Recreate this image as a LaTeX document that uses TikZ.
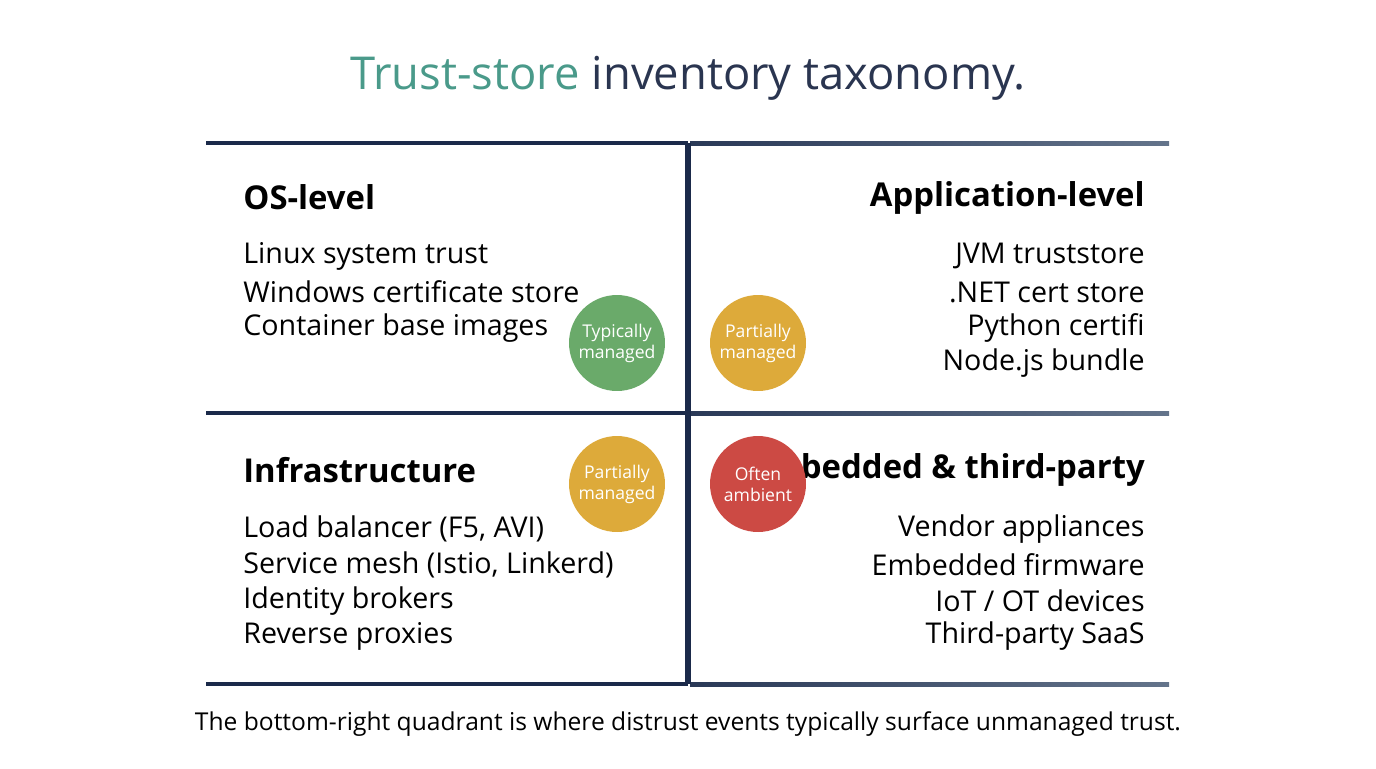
\documentclass[tikz,border=0pt]{standalone}
\usepackage{fontspec}
\setmainfont{Open Sans}
\definecolor{navy}{HTML}{1B2A4A}
\definecolor{slate}{HTML}{64748B}
\definecolor{teal}{HTML}{4A9A8A}
\definecolor{ink}{HTML}{2A3550}
\definecolor{okgreen}{HTML}{6AAA6A}
\definecolor{midgold}{HTML}{DDAA3A}
\definecolor{warnred}{HTML}{CC4A44}
\tikzset{%
  % Specifications for style of nodes:
        head/.style = {font=\fontsize{18.7}{22}\selectfont\bfseries, text=black},
        item/.style = {font=\fontsize{16.3}{20}\selectfont, text=black, inner sep=0pt},
       badge/.style = {circle, minimum size=1.92cm, inner sep=0pt, text=white,
                       align=center, font=\fontsize{10}{12}\selectfont},
        rule/.style = {line width=2.2pt, draw=navy},
}
\begin{document}
\begin{tikzpicture}[x=0.02cm, y=-0.02cm]
  \useasboundingbox (0,0) rectangle (1376,768);

  % Title and caption
  \node (title) at (688,78) {\fontsize{25.8}{30}\selectfont\textcolor{teal}{Trust-store} \textcolor{ink}{inventory taxonomy.}};
  \node (caption) at (688,724) {\fontsize{14}{17}\selectfont The bottom-right quadrant is where distrust events typically surface unmanaged trust.};

  % Grid lines
  \coordinate (tl) at (206,143);  \coordinate (tm) at (688,143);  \coordinate (tr) at (1169,143);
  \coordinate (ml) at (206,413);  \coordinate (mm) at (688,413);  \coordinate (mr) at (1169,413);
  \coordinate (bl) at (206,684);  \coordinate (bm) at (688,684);  \coordinate (br) at (1169,684);
  \draw[rule] (tl) -- (tm);
  \draw[rule] (ml) -- (mm);
  \draw[rule] (bl) -- (bm);
  \shade[left color=navy!80!slate, right color=slate] (690,141) rectangle (1169,145);
  \shade[left color=navy!80!slate, right color=slate] (690,411) rectangle (1169,415);
  \shade[left color=navy!80!slate, right color=slate] (690,682) rectangle (1169,686);
  \draw[line width=3pt, draw=navy] (tm) -- (bm);

  % Quadrant texts
  \node (os) [head, anchor=west, inner sep=0pt] at (243,197) {OS-level};
  \node (os1) [item, anchor=west] at (243,256) {Linux system trust};
  \node (os2) [item, anchor=west] at (243,292) {Windows certificate store};
  \node (os3) [item, anchor=west] at (243,328) {Container base images};

  \node (app) [head, anchor=east, inner sep=0pt] at (1145,198) {Application-level};
  \node (app1) [item, anchor=east] at (1145,256) {JVM truststore};
  \node (app2) [item, anchor=east] at (1145,292) {.NET cert store};
  \node (app3) [item, anchor=east] at (1145,328) {Python certifi};
  \node (app4) [item, anchor=east] at (1145,363) {Node.js bundle};

  \node (infra) [head, anchor=west, inner sep=0pt] at (243,470) {Infrastructure};
  \node (infra1) [item, anchor=west] at (243,529) {Load balancer (F5, AVI)};
  \node (infra2) [item, anchor=west] at (243,565) {Service mesh (Istio, Linkerd)};
  \node (infra3) [item, anchor=west] at (243,601) {Identity brokers};
  \node (infra4) [item, anchor=west] at (243,636) {Reverse proxies};

  \node (emb) [head, anchor=east, inner sep=0pt] at (1145,470) {Embedded \& third-party};
  \node (emb1) [item, anchor=east] at (1145,529) {Vendor appliances};
  \node (emb2) [item, anchor=east] at (1145,565) {Embedded firmware};
  \node (emb3) [item, anchor=east] at (1145,601) {IoT / OT devices};
  \node (emb4) [item, anchor=east] at (1145,636) {Third-party SaaS};

  % Badges
  \node (osBadge)    [badge, fill=okgreen] at (617,343) {Typically\\managed};
  \node (appBadge)   [badge, fill=midgold] at (758,343) {Partially\\managed};
  \node (infraBadge) [badge, fill=midgold] at (617,484) {Partially\\managed};
  \node (embBadge)   [badge, fill=warnred] at (758,484) {Often\\ambient};
\end{tikzpicture}
\end{document}
